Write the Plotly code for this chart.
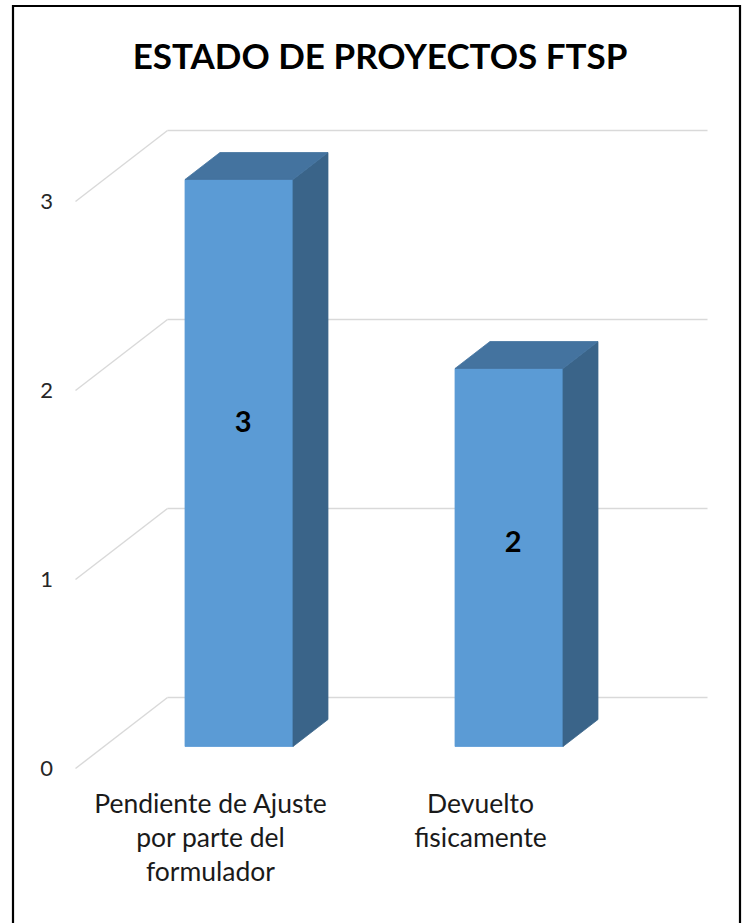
import plotly.graph_objects as go

# ---------------- data ----------------
categories = ["Pendiente de Ajuste<br>por parte del<br>formulador", "Devuelto<br>fisicamente"]
values = [3, 2]
y_ticks = [0, 1, 2, 3]
title_text = "ESTADO DE PROYECTOS FTSP"

# ---------------- geometry (oblique 3D projection) ----------------
W, H = 742, 923
L, B = 60, 138
PX_PER_CAT = 270.0
PX_PER_VAL = 189.0
X0_PX = 210.5   # pixel x of category 0 at the floor's front edge
Y0_PX = 768.5   # pixel y of value 0 at the floor's front edge
DX = 92 / PX_PER_CAT    # depth offset in category units
DY = 71 / PX_PER_VAL    # depth offset in value units
ZF, ZB = 0.31, 0.69     # bar front / back depth
HALF = 0.2              # half bar width (category units)
XL, XR = -0.5, 1.5      # floor extent

FRONT = "#5B9BD5"
SIDE = "#3A6489"
TOP = "#44739F"
GRID = "#D9D9D9"


def proj(x, v, z):
    return x + z * DX, v + z * DY


xr = [(L - X0_PX) / PX_PER_CAT, (W - X0_PX) / PX_PER_CAT]
yr = [(Y0_PX - (H - B)) / PX_PER_VAL, Y0_PX / PX_PER_VAL]

fig = go.Figure()

# back wall gridlines + side wall diagonals
gx, gy = [], []
for t in y_ticks:
    a = proj(XL, t, 1)
    b = proj(XR, t, 1)
    gx += [a[0], b[0], None]
    gy += [a[1], b[1], None]
    c = proj(XL, t, 0)
    gx += [c[0], a[0], None]
    gy += [c[1], a[1], None]
fig.add_trace(go.Scatter(x=gx, y=gy, mode="lines", line=dict(color=GRID, width=1.4),
                         hoverinfo="skip", showlegend=False))

# bars
for i, v in enumerate(values):
    x0, x1 = i - HALF, i + HALF
    faces = [
        ([(x0, 0, ZF), (x1, 0, ZF), (x1, v, ZF), (x0, v, ZF)], FRONT),
        ([(x1, 0, ZF), (x1, 0, ZB), (x1, v, ZB), (x1, v, ZF)], SIDE),
        ([(x0, v, ZF), (x1, v, ZF), (x1, v, ZB), (x0, v, ZB)], TOP),
    ]
    for pts, col in faces:
        px, py = zip(*[proj(*p) for p in pts])
        fig.add_trace(go.Scatter(x=list(px) + [px[0]], y=list(py) + [py[0]], mode="lines",
                                 fill="toself", fillcolor=col, line=dict(color=col, width=0.8),
                                 hoverinfo="skip", showlegend=False))

# data labels
lx, ly = [], []
for i, v in enumerate(values):
    p = proj(i + 0.015, v * 0.635 - 0.2, ZF)
    lx.append(p[0])
    ly.append(p[1])
fig.add_trace(go.Scatter(x=lx, y=ly, mode="text", text=[str(v) for v in values],
                         textposition="middle center",
                         textfont=dict(family="Lato", size=29, color="#000000", weight="bold"),
                         hoverinfo="skip", showlegend=False))

fig.update_layout(
    width=W, height=H,
    margin=dict(l=L, r=0, t=0, b=B),
    paper_bgcolor="white", plot_bgcolor="white",
    title=dict(text="<b>" + title_text + "</b>", x=380 / W, xref="container", xanchor="center",
               y=1 - 57 / H, yref="container", yanchor="middle",
               font=dict(family="Lato", size=35, color="#000000")),
    xaxis=dict(range=xr, tickmode="array", tickvals=list(range(len(categories))), ticktext=categories,
               showgrid=False, zeroline=False, showline=False, ticks="", fixedrange=True,
               tickfont=dict(family="Lato", size=26.5, color="#1a1a1a")),
    yaxis=dict(range=yr, tickmode="array", tickvals=y_ticks, ticktext=[str(t) for t in y_ticks],
               showgrid=False, zeroline=False, showline=False, ticks="", fixedrange=True,
               ticklabelstandoff=6,
               tickfont=dict(family="Lato", size=22, color="#262626")),
    shapes=[dict(type="rect", xref="paper", yref="paper",
                 x0=(13 - L) / (W - L), x1=(740 - L) / (W - L),
                 y0=(H - B - 960) / (H - B), y1=(H - B - 6) / (H - B),
                 line=dict(color="black", width=2.2), fillcolor="rgba(0,0,0,0)", layer="above")],
)

fig.write_html("out.html", config={"displayModeBar": False},
               post_script="document.body.style.margin='0';document.body.style.overflow='hidden';")
